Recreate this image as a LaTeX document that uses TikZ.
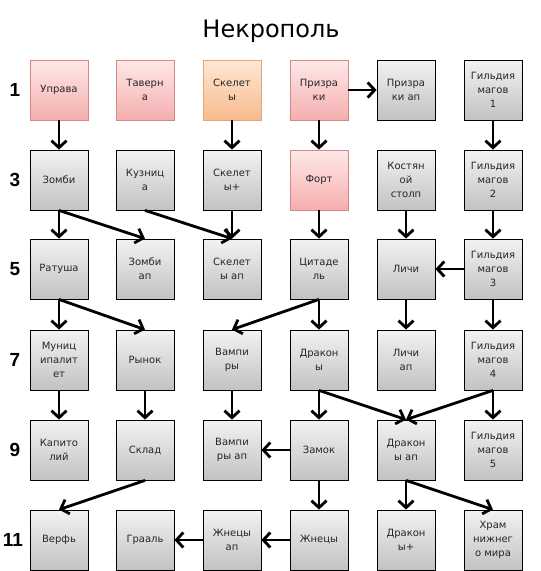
\documentclass[tikz,border=0pt]{standalone}
\usepackage{fontspec}
\setmainfont{DejaVu Sans}
\newfontfamily\numfont{Liberation Sans}
\usetikzlibrary{arrows.meta}
\definecolor{graytop}{HTML}{F2F2F2}
\definecolor{graybot}{HTML}{C2C2C2}
\definecolor{redtop}{HTML}{FFE8E8}
\definecolor{redbot}{HTML}{F5AEAE}
\definecolor{redline}{HTML}{D48888}
\definecolor{orgtop}{HTML}{FDE8D6}
\definecolor{orgbot}{HTML}{F8BA8C}
\definecolor{orgline}{HTML}{E6A577}

\begin{document}
\begin{tikzpicture}[x=1pt, y=-1pt,
    blk/.style={draw=black, line width=0.8pt, minimum width=58pt, minimum height=60pt,
        top color=graytop, bottom color=graybot, align=center, inner sep=1pt,
        text=black!85, font=\fontsize{10}{14}\selectfont},
    redblk/.style={blk, draw=redline, top color=redtop, bottom color=redbot},
    orgblk/.style={blk, draw=orgline, top color=orgtop, bottom color=orgbot},
    rowlbl/.style={font=\numfont\bfseries\fontsize{19}{22}\selectfont},
    go/.style={line width=2.8pt, -{Straight Barb[length=7pt, width=15pt]}}]

    \useasboundingbox (0,0) rectangle (541,571);

    \draw(271,31) node[font=\fontsize{24}{28}\selectfont] (title) {Некрополь};

    \draw(15,90) node[rowlbl] (r1) {1};
    \draw(15,180) node[rowlbl] (r3) {3};
    \draw(15,269) node[rowlbl] (r5) {5};
    \draw(15,360) node[rowlbl] (r7) {7};
    \draw(15,450) node[rowlbl] (r9) {9};
    \draw(13,540) node[rowlbl] (r11) {11};

    % level 1
    \draw(59,90) node[redblk] (upr) {Управа};
    \draw(145,90) node[redblk] (tav) {Таверн\\а};
    \draw(232,90) node[orgblk] (skel) {Скелет\\ы};
    \draw(319,90) node[redblk] (prz) {Призра\\ки};
    \draw(406,90) node[blk] (przap) {Призра\\ки ап};
    \draw(493,90) node[blk] (mg1) {Гильдия\\магов\\1};

    % level 3
    \draw(59,180) node[blk] (zom) {Зомби};
    \draw(145,180) node[blk] (kuz) {Кузниц\\а};
    \draw(232,180) node[blk] (skelp) {Скелет\\ы+};
    \draw(319,180) node[redblk] (fort) {Форт};
    \draw(406,180) node[blk] (kost) {Костян\\ой\\столп};
    \draw(493,180) node[blk] (mg2) {Гильдия\\магов\\2};

    % level 5
    \draw(59,269) node[blk] (rat) {Ратуша};
    \draw(145,269) node[blk] (zomap) {Зомби\\ап};
    \draw(232,269) node[blk] (skelap) {Скелет\\ы ап};
    \draw(319,269) node[blk] (cit) {Цитаде\\ль};
    \draw(406,269) node[blk] (lich) {Личи};
    \draw(493,269) node[blk] (mg3) {Гильдия\\магов\\3};

    % level 7
    \draw(59,360) node[blk] (mun) {Муниц\\ипалит\\ет};
    \draw(145,360) node[blk] (ryn) {Рынок};
    \draw(232,360) node[blk] (vamp) {Вампи\\ры};
    \draw(319,360) node[blk] (drak) {Дракон\\ы};
    \draw(406,360) node[blk] (lichap) {Личи\\ап};
    \draw(493,360) node[blk] (mg4) {Гильдия\\магов\\4};

    % level 9
    \draw(59,450) node[blk] (kap) {Капито\\лий};
    \draw(145,450) node[blk] (sklad) {Склад};
    \draw(232,450) node[blk] (vampap) {Вампи\\ры ап};
    \draw(319,450) node[blk] (zamok) {Замок};
    \draw(406,450) node[blk] (drakap) {Дракон\\ы ап};
    \draw(493,450) node[blk] (mg5) {Гильдия\\магов\\5};

    % level 11
    \draw(59,540) node[blk] (verf) {Верфь};
    \draw(145,540) node[blk] (graal) {Грааль};
    \draw(232,540) node[blk] (zhnap) {Жнецы\\ап};
    \draw(319,540) node[blk] (zhn) {Жнецы};
    \draw(406,540) node[blk] (drakp) {Дракон\\ы+};
    \draw(493,540) node[blk] (hram) {Храм\\нижнег\\о мира};

    \draw[go] (upr) to (zom);
    \draw[go] (skel) to (skelp);
    \draw[go] (prz) to (przap);
    \draw[go] (prz) to (fort);
    \draw[go] (mg1) to (mg2);

    \draw[go] (zom) to (rat);
    \draw[go] (zom.south) to (zomap.north);
    \draw[go] (kuz.south) to (skelap.north);
    \draw[go] (skelp) to (skelap);
    \draw[go] (fort) to (cit);
    \draw[go] (kost) to (lich);
    \draw[go] (mg2) to (mg3);
    \draw[go] (mg3) to (lich);

    \draw[go] (rat) to (mun);
    \draw[go] (rat.south) to (ryn.north);
    \draw[go] (cit.south) to (vamp.north);
    \draw[go] (cit) to (drak);
    \draw[go] (lich) to (lichap);
    \draw[go] (mg3) to (mg4);

    \draw[go] (mun) to (kap);
    \draw[go] (ryn) to (sklad);
    \draw[go] (vamp) to (vampap);
    \draw[go] (drak) to (zamok);
    \draw[go] (drak.south) to (drakap.north);
    \draw[go] (mg4.south) to (drakap.north);
    \draw[go] (mg4) to (mg5);

    \draw[go] (zamok) to (vampap);
    \draw[go] (zamok) to (zhn);
    \draw[go] (sklad.south) to (verf.north);
    \draw[go] (drakap) to (drakp);
    \draw[go] (drakap.south) to (hram.north);
    \draw[go] (zhn) to (zhnap);
    \draw[go] (zhnap) to (graal);

\end{tikzpicture}
\end{document}
